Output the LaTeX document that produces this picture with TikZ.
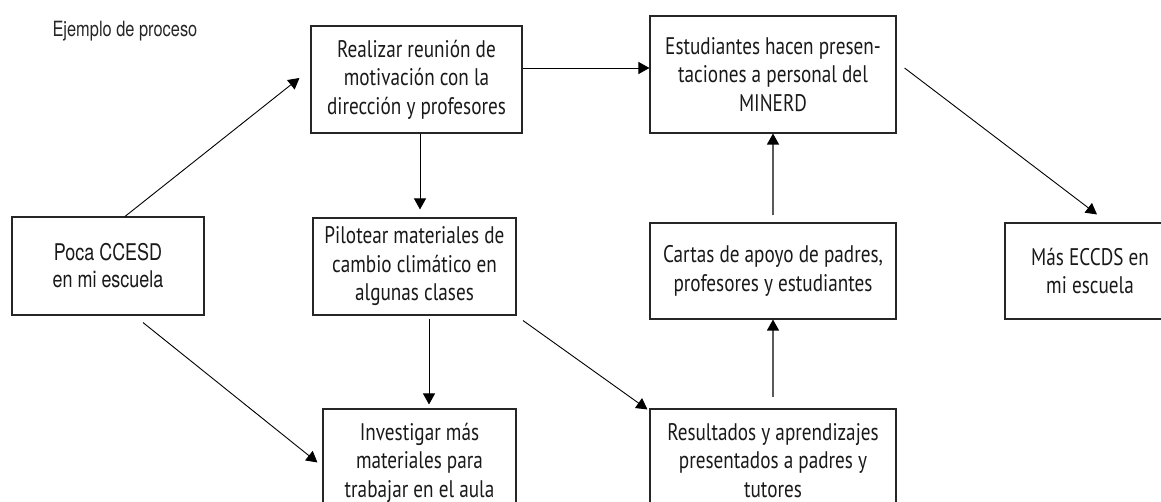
\documentclass[tikz,border=0pt]{standalone}
\usepackage{fontspec}
\setmainfont{PT Sans}[FakeStretch=0.8]
\newfontfamily\narrowfont{TeX Gyre Heros}[FakeStretch=0.78]
\usetikzlibrary{arrows.meta}
\begin{document}
\begin{tikzpicture}[x=1pt,y=-1pt,
  box/.style={draw=black!85, line width=1.1pt, align=center, inner sep=0pt, text=black!90, font=\fontsize{24}{28.5}\selectfont},
  arr/.style={-{Triangle[length=11pt,width=12pt]}, line width=0.9pt, draw=black},
  garr/.style={-{Triangle[length=11pt,width=12pt,color=black]}, line width=1.3pt, draw=black!65}]
\useasboundingbox (0,0) rectangle (1161,502);
\node[anchor=west, font=\narrowfont\fontsize{21}{24}\selectfont, text=black!85] (title) at (49,31) {Ejemplo de proceso};
\node[box, minimum width=211pt, minimum height=107pt] (real) at (416.5,79.5) {Realizar reunión de\\motivación con la\\dirección y profesores};
\node[box, minimum width=246pt, minimum height=117pt] (est) at (773,74.5) {Estudiantes hacen presen-\\taciones a personal del\\MINERD};
\node[box, minimum width=192pt, minimum height=98pt, font=\narrowfont\fontsize{23}{27}\selectfont] (poca) at (108,266) {Poca CCESD\\en mi escuela};
\node[box, minimum width=203pt, minimum height=97pt] (pil) at (414.5,266.5) {Pilotear materiales de\\cambio climático en\\algunas clases};
\node[box, minimum width=246pt, minimum height=96pt] (car) at (773,271) {Cartas de apoyo de padres,\\profesores y estudiantes};
\node[box, minimum width=170pt, minimum height=96pt] (mas) at (1090,271) {Más ECCDS en\\mi escuela};
\node[box, minimum width=193pt, minimum height=107pt] (inv) at (419.5,462.5) {Investigar más\\materiales para\\trabajar en el aula};
\node[box, minimum width=246pt, minimum height=103pt] (res) at (773,460.5) {Resultados y aprendizajes\\presentados a padres y\\tutores};
\draw[arr] ([xshift=17pt]poca.north) -- ([xshift=-11pt,yshift=1.5pt]real.west);
\draw[arr] ([xshift=35pt,yshift=-7pt]poca.south) -- ([xshift=-5pt]inv.west);
\draw[arr] ([xshift=3.5pt]real.south) -- ([xshift=5.5pt,yshift=8pt]pil.north);
\draw[arr] ([xshift=14.5pt,yshift=-3pt]pil.south) -- ([xshift=9.5pt,yshift=4pt]inv.north);
\draw[arr] ([yshift=11.5pt]real.east) -- ([yshift=6.5pt]est.west);
\draw[arr] ([xshift=8pt,yshift=6.5pt]est.east) -- ([xshift=7pt,yshift=8pt]mas.north);
\draw[garr] ([yshift=7pt]car.north) -- (est.south);
\draw[garr] ([yshift=11pt]res.north) -- (car.south);
\draw[arr] ([xshift=108.5pt,yshift=-5pt]pil.south) -- ([xshift=-2pt,yshift=-1pt]res.north west);
\end{tikzpicture}
\end{document}
